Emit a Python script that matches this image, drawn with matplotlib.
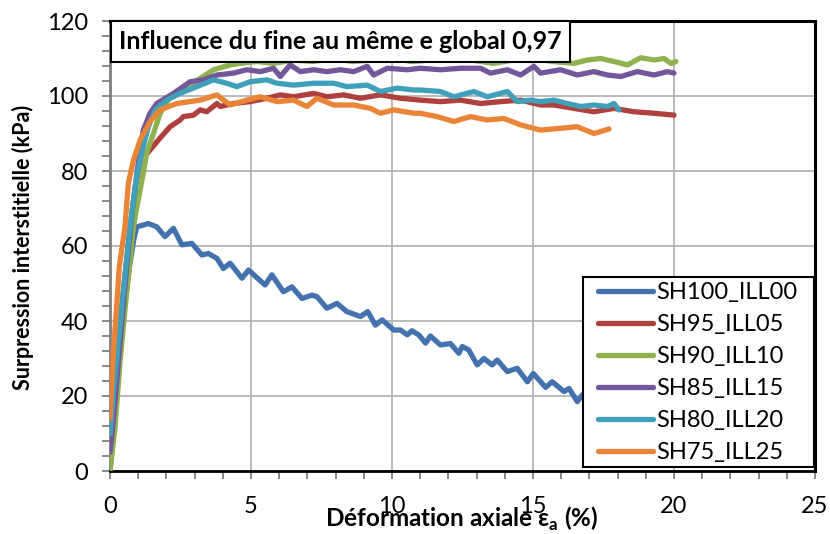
import matplotlib
matplotlib.use("Agg")
import matplotlib.pyplot as plt
from matplotlib.patches import Rectangle
from matplotlib.ticker import MultipleLocator

plt.rcParams['font.family'] = ['Lato', 'DejaVu Sans']

labels = ["SH100_ILL00", "SH95_ILL05", "SH90_ILL10", "SH85_ILL15", "SH80_ILL20", "SH75_ILL25"]
colors = ["#4472AE", "#B0403D", "#8DB24F", "#74579A", "#40A0BA", "#EA8437"]

x_sh100 = [0, 0.1, 0.25, 0.4, 0.55, 0.7, 0.85, 0.95, 1.36, 1.66, 1.95, 2.25, 2.55, 2.9, 3.26, 3.49, 3.79,
           4.02, 4.26, 4.68, 4.91, 5.50, 5.74, 6.15, 6.45, 6.81, 7.16, 7.34, 7.69, 8.05, 8.40, 8.88, 9.14,
           9.41, 9.65, 10.06, 10.30, 10.54, 10.71, 10.95, 11.19, 11.36, 11.72, 12.07, 12.37, 12.49, 12.72,
           13.02, 13.26, 13.55, 13.73, 14.09, 14.44, 14.80, 15.01, 15.45, 15.68, 16.10, 16.28, 16.57, 16.75]
y_sh100 = [0, 8, 22, 35, 46, 55, 62, 65.1, 66.0, 65.1, 62.5, 64.7, 60.3, 60.7, 57.6, 58.0, 56.7,
           54.0, 55.4, 51.4, 53.6, 49.6, 52.3, 47.8, 49.1, 46.0, 46.9, 46.5, 43.4, 44.7, 42.5, 41.2, 42.5,
           38.9, 40.3, 37.6, 37.6, 36.3, 37.4, 36.3, 34.1, 36.0, 33.6, 34.0, 31.4, 33.2, 32.3,
           28.3, 30.0, 28.3, 29.6, 26.5, 27.4, 23.8, 26.0, 22.3, 23.8, 21.2, 22.0, 18.5, 20.3]

x_sh95 = [0, 0.12, 0.3, 0.5, 0.7, 0.9, 1.07, 1.30, 1.72, 2.13, 2.49, 2.60, 2.96, 3.2, 3.43, 3.79, 3.91,
          4.38, 4.97, 5.56, 6.04, 6.51, 7.22, 7.70, 8.28, 8.88, 9.59, 10.3, 11.0, 11.72, 12.43, 13.14,
          13.85, 14.56, 15.27, 15.74, 16.45, 17.16, 17.87, 18.58, 19.29, 20.0]
y_sh95 = [0, 18, 35, 50, 64, 76, 82.5, 84.5, 88.3, 91.8, 93.6, 94.5, 94.9, 96.3, 95.8, 98.0, 97.2,
          98.0, 98.5, 99.4, 100.3, 99.8, 100.7, 99.8, 100.3, 99.4, 100.3, 99.4, 98.9, 98.5, 98.9, 98.0,
          98.5, 98.9, 97.6, 97.6, 96.7, 95.8, 96.7, 95.8, 95.4, 94.9]

x_sh90 = [0, 0.18, 0.36, 0.53, 0.71, 0.83, 1.0, 1.18, 1.30, 1.54, 1.78, 2.13, 2.72, 3.2, 3.67, 4.26,
          4.62, 5.2, 5.8, 6.5, 7.2, 7.9, 8.6, 9.3, 10.0, 10.7, 11.4, 12.1, 12.8, 13.6, 14.3, 15.0, 15.7,
          16.45, 16.93, 17.4, 17.87, 18.35, 18.82, 19.29, 19.65, 19.89, 20.07]
y_sh90 = [0, 11.8, 29.6, 42.9, 56.3, 65.1, 72.3, 79.4, 84.7, 90.0, 95.4, 99.8, 102.5, 104.7, 107.0, 108.3,
          108.7, 109.2, 108.7, 109.6, 109.2, 110.0, 109.2, 109.6, 110.0, 109.2, 109.6, 110.2, 109.6, 108.7,
          109.6, 110.0, 109.2, 108.7, 109.6, 110.0, 109.2, 108.3, 110.2, 109.6, 110.0, 108.7, 109.2]

x_sh85 = [0, 0.1, 0.25, 0.4, 0.6, 0.8, 1.0, 1.18, 1.42, 1.66, 2.25, 2.84, 3.31, 3.79, 4.38, 4.85, 5.33,
          5.8, 6.04, 6.39, 6.75, 7.22, 7.7, 8.17, 8.64, 9.12, 9.35, 9.83, 10.54, 11.0, 11.72, 12.43, 13.14,
          13.49, 14.09, 14.56, 15.03, 15.27, 15.98, 16.57, 17.16, 17.64, 18.11, 18.7, 19.29, 19.77, 20.0]
y_sh85 = [5, 12, 25, 38, 55, 70, 82, 90.9, 95.4, 98.0, 100.7, 103.8, 104.3, 105.6, 106.1, 107.0, 106.5,
          107.4, 105.2, 108.3, 106.5, 107.0, 106.5, 107.0, 106.5, 107.9, 105.6, 107.4, 107.0, 107.4, 107.0,
          107.4, 107.4, 106.1, 107.0, 105.6, 107.9, 106.1, 107.0, 105.6, 106.5, 105.6, 105.2, 106.5, 105.6,
          106.5, 106.1]

x_sh80 = [0, 0.12, 0.29, 0.47, 0.71, 0.95, 1.12, 1.36, 1.6, 2.01, 2.49, 3.08, 3.67, 4.14, 4.5, 4.97,
          5.56, 5.92, 6.51, 7.22, 7.93, 8.4, 9.12, 9.59, 10.18, 10.77, 11.0, 11.72, 12.19, 12.9, 13.38,
          14.09, 14.44, 14.91, 15.27, 15.74, 16.22, 16.69, 17.16, 17.64, 17.87, 18.05]
y_sh80 = [10, 20.7, 34.0, 47.4, 65.1, 78.5, 84.7, 91.8, 96.3, 98.9, 100.7, 102.5, 104.3, 103.4, 102.5,
          103.8, 104.3, 103.4, 102.9, 103.4, 103.4, 102.5, 102.9, 101.2, 102.1, 101.6, 101.6, 101.2, 99.8,
          101.2, 99.8, 101.2, 98.5, 98.9, 98.5, 98.9, 98.0, 97.2, 97.6, 97.2, 98.0, 96.3]

x_sh75 = [0, 0.04, 0.12, 0.21, 0.33, 0.53, 0.65, 0.83, 1.07, 1.42, 1.78, 2.37, 3.2, 3.79, 4.26, 4.85,
          5.33, 5.92, 6.51, 6.98, 7.34, 7.93, 8.64, 9.23, 9.59, 10.06, 10.77, 11.0, 11.6, 12.19, 12.78,
          13.38, 13.97, 14.56, 15.27, 15.98, 16.57, 17.16, 17.70]
y_sh75 = [14, 20, 31.4, 41.2, 54.5, 65.1, 76.7, 82.9, 88.3, 93.2, 96.3, 98.0, 98.9, 100.3, 97.6, 98.9,
          99.8, 98.5, 98.9, 97.2, 99.4, 97.6, 97.6, 96.7, 95.4, 96.3, 95.4, 95.4, 94.5, 93.2, 94.5,
          93.6, 94.0, 92.3, 90.9, 91.4, 91.8, 90.0, 91.2]

series_x = [x_sh100, x_sh95, x_sh90, x_sh85, x_sh80, x_sh75]
series_y = [y_sh100, y_sh95, y_sh90, y_sh85, y_sh80, y_sh75]

title_text = "Influence du fine au même e global 0,97"
xlabel_text = r"Déformation axiale ε$_\mathregular{a}$ (%)"
ylabel_text = "Surpression interstitielle (kPa)"

W, H = 830, 534
fig = plt.figure(figsize=(W / 100, H / 100), dpi=100)
L, R, T, B = 110, 815, 21, 471
ax = fig.add_axes([L / W, 1 - B / H, (R - L) / W, (B - T) / H])


def ax_x(px):
    return (px - L) / (R - L)


def ax_y(py):
    return (B - py) / (B - T)


for xs, ys, c, lab in zip(series_x, series_y, colors, labels):
    ax.plot(xs, ys, color=c, lw=3.8, label=lab, solid_capstyle='round', solid_joinstyle='round', zorder=3)

ax.set_xlim(0, 25)
ax.set_ylim(0, 120)
ax.xaxis.set_major_locator(MultipleLocator(5))
ax.xaxis.set_minor_locator(MultipleLocator(1))
ax.yaxis.set_major_locator(MultipleLocator(20))
ax.yaxis.set_minor_locator(MultipleLocator(4))
ax.grid(True, which='major', color='#B4B4B4', lw=1.3, zorder=0)
ax.set_axisbelow(True)

ax.tick_params(axis='both', which='both', direction='out', length=6, width=1.3, color='#808080',
               labelsize=17, labelcolor='black')
ax.tick_params(axis='x', which='major', pad=12)
ax.tick_params(axis='y', which='major', pad=10)

for s in ['top', 'right']:
    ax.spines[s].set_color('black')
    ax.spines[s].set_linewidth(2.2)
ax.spines['bottom'].set_color('black')
ax.spines['bottom'].set_linewidth(2.0)
ax.spines['left'].set_color('#7F7F7F')
ax.spines['left'].set_linewidth(2.0)

# Title box
bx0, bx1, by0 = ax_x(111), ax_x(570), ax_y(62)
ax.add_patch(Rectangle((bx0, by0), bx1 - bx0, 1 - by0, transform=ax.transAxes,
                       facecolor='white', edgecolor='black', lw=1.5, zorder=6, clip_on=False))
ax.text((bx0 + bx1) / 2, (by0 + 1) / 2, title_text, transform=ax.transAxes, ha='center', va='center',
        fontsize=18, fontweight='bold', zorder=7)

# Legend box (frame drawn separately to match the reference geometry)
lx0, lx1, ly0, ly1 = ax_x(583), ax_x(814), ax_y(467), ax_y(277)
ax.add_patch(Rectangle((lx0, ly0), lx1 - lx0, ly1 - ly0, transform=ax.transAxes,
                       facecolor='white', edgecolor='black', lw=1.5, zorder=7))
leg = ax.legend(loc='upper left', bbox_to_anchor=(ax_x(598), ax_y(282)), fontsize=17, frameon=False,
                handlelength=2.35, handletextpad=0.1, labelspacing=0.47,
                borderpad=0.0, borderaxespad=0.0)
leg.set_zorder(8)

fig.text(462 / W, 1 - 519 / H, xlabel_text, ha='center', va='center', fontsize=17.5, fontweight='bold')
fig.text(23 / W, 1 - 247 / H, ylabel_text, ha='center', va='center', rotation=90, fontsize=15.5,
         fontweight='bold')

fig.savefig("out.png", dpi=100)
